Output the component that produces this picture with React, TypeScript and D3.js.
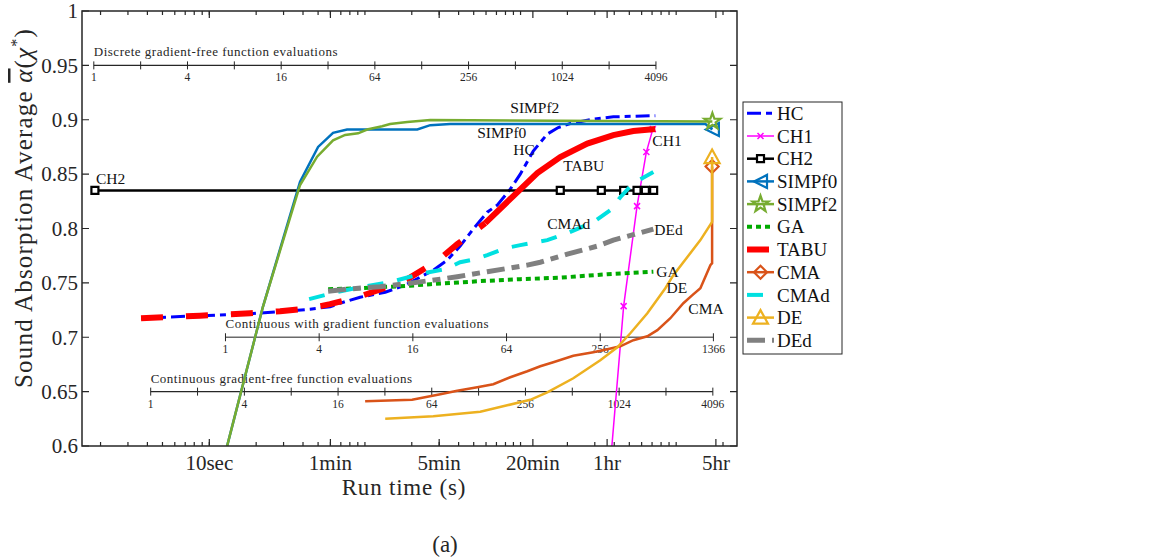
import * as d3 from 'd3'
import { useEffect, useRef } from 'react'

const width = 1155, height = 559
const box = { left: 82, right: 737, top: 11, bottom: 446 }
const font = "'Liberation Serif', 'Times New Roman', Times, serif"

// run time (s) against sound absorption average
const HC = [[3.64, 0.7175], [8.71, 0.7198], [18.3, 0.7216], [28.5, 0.7235], [44.4, 0.7258], [59.7, 0.7281], [74.6, 0.7327], [93.1, 0.7368], [135, 0.7414], [181, 0.7479], [226, 0.7552], [275, 0.7617], [338, 0.7709], [409, 0.7838], [496, 0.7994], [611, 0.815], [708, 0.8215], [859, 0.8362], [996, 0.85], [1207, 0.8712], [1485, 0.8868], [1747, 0.8928], [2087, 0.8965], [2935, 0.9006], [3947, 0.9027], [7348, 0.9037]]
const CH1 = [[3611, 0.55], [4597, 0.7286], [5605, 0.8206], [6433, 0.8703], [7080, 0.8914]]
const CH2 = [[1.84, 0.835], [1800, 0.835], [3304, 0.835], [4597, 0.835], [5605, 0.835], [6339, 0.835], [7166, 0.835]]
const SIMPf0 = [[11.4, 0.568], [22.1, 0.728], [38.3, 0.843], [50, 0.875], [62.4, 0.888], [76.8, 0.891], [217, 0.891], [263, 0.895], [353, 0.896], [15410, 0.896], [17090, 0.891]]
const SIMPf2 = [[11.4, 0.568], [22.1, 0.728], [38.3, 0.84], [49.3, 0.866], [62.4, 0.881], [74.6, 0.886], [90.4, 0.8875], [103.3, 0.891], [129, 0.894], [145, 0.896], [187, 0.898], [263, 0.8997], [17090, 0.8985]]
const GA = [[58, 0.7442], [93.1, 0.7451], [125, 0.746], [195, 0.7474], [263, 0.7488], [551, 0.7516], [996, 0.7534], [1800, 0.7548], [3611, 0.758], [7135, 0.7603]]
const TABU = [[3.64, 0.7175], [8.71, 0.7198], [18.3, 0.7221], [28.5, 0.7239], [44.4, 0.7267], [59.7, 0.7304], [74.6, 0.7341], [90.4, 0.737], [131, 0.7448], [190, 0.754], [296, 0.7709], [392, 0.7856], [593, 0.8049], [898, 0.8298], [1281, 0.8509], [1800, 0.8657], [2685, 0.8781], [3947, 0.8859], [5306, 0.8896], [7348, 0.8914]]
const CMA = [[100.3, 0.6411], [201, 0.6425], [305, 0.6476], [392, 0.6508], [527, 0.654], [668, 0.6568], [859, 0.6632], [1105, 0.6687], [1339, 0.6733], [1623, 0.677], [2183, 0.683], [2935, 0.6862], [3611, 0.689], [4378, 0.6917], [5306, 0.6973], [6528, 0.7009], [7570, 0.7065], [9177, 0.7175], [11120, 0.7313], [12710, 0.7387], [14310, 0.7451], [16590, 0.7663], [17020, 0.7681], [17020, 0.857]]
const CMAd = [[43.8, 0.735], [59.7, 0.7401], [93.1, 0.746], [145, 0.7506], [190, 0.7552], [237, 0.7589], [328, 0.7626], [409, 0.769], [511, 0.7718], [611, 0.7755], [797, 0.7819], [996, 0.7847], [1485, 0.7893], [1997, 0.7957], [2935, 0.8058], [3776, 0.8169], [4378, 0.8288], [5306, 0.8417], [7135, 0.8519]]
const DE = [[135, 0.625], [275, 0.6273], [551, 0.6315], [821, 0.6374], [1155, 0.6425], [1485, 0.6494], [2183, 0.6623], [3254, 0.6789], [4188, 0.6908], [5076, 0.7037], [6528, 0.7221], [8521, 0.7451], [9594, 0.7571], [14310, 0.7893], [17020, 0.8061], [17020, 0.8657]]
const DEd = [[58, 0.7424], [76.8, 0.7442], [100.3, 0.7456], [125, 0.7465], [195, 0.7497], [305, 0.7534], [392, 0.7557], [611, 0.7603], [1105, 0.7663], [1339, 0.769], [1997, 0.7764], [3113, 0.7838], [3947, 0.7893], [5306, 0.7943], [7135, 0.7994]]

const xTickVals = [10, 60, 300, 1200, 3600, 18000]
const xTickLabels = ['10sec', '1min', '5min', '20min', '1hr', '5hr']
const yTicks = [0.6, 0.65, 0.7, 0.75, 0.8, 0.85, 0.9, 0.95, 1]

// secondary evaluation-count axes drawn inside the plot
const discreteTicks = [1, 2, 4, 8, 16, 32, 64, 128, 256, 512, 1024, 2048, 4096]
const discreteLabels = [1, 4, 16, 64, 256, 1024, 4096]
const gradTicks = [1, 4, 16, 64, 256, 1366]
const freeTicks = [1, 2, 4, 8, 16, 32, 64, 128, 256, 512, 1024, 2048, 4096]
const freeLabels = [1, 4, 16, 64, 256, 1024, 4096]

const evalAxes = [
  { title: 'Discrete gradient-free function evaluations', at: 0.95, secPerEval: 1.81, ticks: discreteTicks, labels: discreteLabels, color: '#262626' },
  { title: 'Continuous with gradient function evaluations', at: 0.7, secPerEval: 12.7, ticks: gradTicks, labels: gradTicks, color: '#6a6a6a' },
  { title: 'Continuous gradient-free function evaluations', at: 0.65, secPerEval: 4.2, ticks: freeTicks, labels: freeLabels, color: '#262626' },
]

const series = [
  { name: 'HC', data: HC, color: '#0000ff', width: 3, dash: '14,5,6,5' },
  { name: 'CH1', data: CH1, color: '#ff00ff', width: 1.5, marker: 'x', every: true },
  { name: 'CH2', data: CH2, color: '#000000', width: 2.5, marker: 'square', every: true },
  { name: 'SIMPf0', data: SIMPf0, color: '#0072bd', width: 2.5, marker: 'left' },
  { name: 'SIMPf2', data: SIMPf2, color: '#77ac30', width: 2.5, marker: 'star' },
  { name: 'GA', data: GA, color: '#00aa00', width: 4, dash: '5,4' },
  { name: 'TABU', data: TABU, color: '#ff0000', width: 6, dash: '22,23', dashUntil: 593 },
  { name: 'CMA', data: CMA, color: '#d95319', width: 2.5, marker: 'diamond' },
  { name: 'CMAd', data: CMAd, color: '#00e0e0', width: 4, dash: '16,14' },
  { name: 'DE', data: DE, color: '#edb120', width: 2.5, marker: 'up' },
  { name: 'DEd', data: DEd, color: '#808080', width: 5, dash: '18,7,8,7' },
]

// curve labels: [text, time, value]
const notes = [
  ['CH2', 1.87, 0.8408], ['SIMPf2', 859, 0.906], ['SIMPf0', 527, 0.8832], ['HC', 898, 0.8675],
  ['TABU', 1882, 0.8528], ['CH1', 7031, 0.8758], ['CMAd', 1485, 0.7994], ['DEd', 7240, 0.794],
  ['GA', 7460, 0.7552], ['DE', 8660, 0.7405], ['CMA', 11980, 0.7212],
]

const markerPath = (type, s) => {
  if (type === 'x') return `M${-s},${-s}L${s},${s}M${-s},${s}L${s},${-s}`
  if (type === 'square') return `M${-s},${-s}H${s}V${s}H${-s}Z`
  if (type === 'left') return `M${-s},0L${s},${-s}L${s},${s}Z`
  if (type === 'up') return `M0,${-s}L${s},${s * 0.8}L${-s},${s * 0.8}Z`
  if (type === 'diamond') return `M0,${-s}L${s},0L0,${s}L${-s},0Z`
  const pts = d3.range(10).map(i => {
    const r = i % 2 ? s * 0.4 : s, a = -Math.PI / 2 + i * Math.PI / 5
    return [r * Math.cos(a), r * Math.sin(a)]
  })
  return 'M' + pts.map(p => p.join(',')).join('L') + 'Z'
}
const markerSize = { x: 3, square: 3.5, left: 6.5, up: 7.5, diamond: 6.5, star: 8.5 }

const chart = (node) => {
  const svg = d3.select(node)
  svg.selectAll('*').remove()

  const x = d3.scaleLog().domain([1.52, 24600]).range([box.left, box.right])
  const y = d3.scaleLinear().domain([0.6, 1]).range([box.bottom, box.top])
  const line = d3.line().x(d => x(d[0])).y(d => y(d[1]))

  svg.append('rect').attr('width', width).attr('height', height).attr('fill', '#fff')

  svg.append('defs').append('clipPath').attr('id', 'plotclip')
    .append('rect')
    .attr('x', box.left).attr('y', box.top)
    .attr('width', box.right - box.left).attr('height', box.bottom - box.top)

  // evaluation axes
  const ev = svg.append('g').attr('font-family', font).attr('fill', '#262626')
  evalAxes.forEach(a => {
    const yy = y(a.at)
    const xe = n => x(n * a.secPerEval)
    const ends = d3.extent(a.ticks)
    ev.append('line')
      .attr('x1', xe(ends[0])).attr('x2', xe(ends[1]))
      .attr('y1', yy).attr('y2', yy)
      .attr('stroke', a.color).attr('stroke-width', 1.3)
    ev.append('g').selectAll('line').data(a.ticks).join('line')
      .attr('x1', xe).attr('x2', xe)
      .attr('y1', yy - 4).attr('y2', yy + 4)
      .attr('stroke', '#262626').attr('stroke-width', 1)
    ev.append('g').selectAll('text').data(a.labels).join('text')
      .attr('x', xe).attr('y', yy + 16)
      .attr('text-anchor', 'middle').attr('font-size', 11.5)
      .text(d => d)
    ev.append('text')
      .attr('x', xe(ends[0])).attr('y', yy - 9)
      .attr('font-size', 13).attr('letter-spacing', 0.5)
      .text(a.title)
  })

  // curves
  const curves = svg.append('g').attr('clip-path', 'url(#plotclip)')
  series.forEach(s => {
    const style = (p, dash) => p
      .attr('fill', 'none').attr('stroke', s.color)
      .attr('stroke-width', s.width)
      .attr('stroke-dasharray', dash || null)
    if (s.dashUntil) {
      const k = s.data.findIndex(d => d[0] >= s.dashUntil)
      curves.append('path').attr('d', line(s.data.slice(0, k + 1))).call(style, s.dash)
      curves.append('path').attr('d', line(s.data.slice(k))).call(style, null)
    } else {
      curves.append('path').attr('d', line(s.data)).call(style, s.dash)
    }
    if (s.marker) {
      const pts = s.every ? s.data : [s.data[s.data.length - 1]]
      curves.append('g').selectAll('path').data(pts).join('path')
        .attr('transform', d => `translate(${x(d[0])},${y(d[1])})`)
        .attr('d', markerPath(s.marker, markerSize[s.marker]))
        .attr('fill', s.marker === 'square' ? '#fff' : 'none')
        .attr('stroke', s.color)
        .attr('stroke-width', s.marker === 'x' ? 1.5 : 2.2)
        .attr('stroke-linejoin', 'miter')
    }
  })

  svg.append('g').attr('font-family', font).attr('font-size', 15.5).attr('fill', '#111')
    .selectAll('text').data(notes).join('text')
    .attr('x', d => x(d[1])).attr('y', d => y(d[2]))
    .text(d => d[0])

  // axes box and ticks
  const ax = svg.append('g').attr('stroke', '#262626')
  ax.append('rect')
    .attr('x', box.left).attr('y', box.top)
    .attr('width', box.right - box.left).attr('height', box.bottom - box.top)
    .attr('fill', 'none').attr('stroke-width', 1.5)
  const minor = []
  for (let k = 0; k <= 4; k++) for (let m = 1; m <= 9; m++) {
    const v = m * 10 ** k
    if (v > x.domain()[0] && v < x.domain()[1]) minor.push(v)
  }
  const ticksX = [...minor.map(v => [v, 4]), ...xTickVals.map(v => [v, 7])]
  ax.append('g').selectAll('path').data(ticksX).join('path')
    .attr('d', d => `M${x(d[0])},${box.bottom}v${-d[1]}M${x(d[0])},${box.top}v${d[1]}`)
    .attr('stroke-width', 1.2)
  ax.append('g').selectAll('path').data(yTicks).join('path')
    .attr('d', d => `M${box.left},${y(d)}h7M${box.right},${y(d)}h-7`)
    .attr('stroke-width', 1.2)

  const lab = svg.append('g').attr('font-family', font).attr('fill', '#262626').attr('font-size', 21)
  lab.selectAll('.xt').data(xTickVals).join('text')
    .attr('x', d => x(d)).attr('y', 470)
    .attr('text-anchor', 'middle')
    .text((d, i) => xTickLabels[i])
  lab.selectAll('.yt').data(yTicks).join('text')
    .attr('x', box.left - 4).attr('y', d => y(d)).attr('dy', '0.35em')
    .attr('text-anchor', 'end')
    .text(d => d3.format('')(d))
  lab.append('text')
    .attr('x', 404).attr('y', 495)
    .attr('text-anchor', 'middle').attr('font-size', 23).attr('letter-spacing', 0.8)
    .text('Run time (s)')
  const yl = lab.append('text')
    .attr('transform', 'translate(32,208) rotate(-90)')
    .attr('text-anchor', 'middle').attr('font-size', 25).attr('letter-spacing', 1.2)
  yl.append('tspan').text('Sound Absorption Average ')
  yl.append('tspan').attr('font-style', 'italic').style('text-decoration', 'overline').text('α')
  yl.append('tspan').text('(')
  yl.append('tspan').attr('font-style', 'italic').text('χ')
  yl.append('tspan').attr('font-size', 16).attr('dy', -10).text('*')
  yl.append('tspan').attr('dy', 10).text(')')
  lab.append('text')
    .attr('x', 445).attr('y', 552)
    .attr('text-anchor', 'middle').attr('font-size', 23)
    .text('(a)')

  // legend
  const lg = svg.append('g').attr('font-family', font).attr('font-size', 19)
  lg.append('rect')
    .attr('x', 743).attr('y', 102).attr('width', 99).attr('height', 252)
    .attr('fill', '#fff').attr('stroke', '#262626').attr('stroke-width', 1)
  const row = lg.selectAll('g.row').data(series).join('g')
    .attr('transform', (d, i) => `translate(747,${113.3 + i * 22.7})`)
  row.append('line')
    .attr('x1', 0).attr('x2', 27)
    .attr('stroke', d => d.color).attr('stroke-width', d => d.width)
    .attr('stroke-dasharray', d => d.dash || null)
  row.filter(d => !!d.marker).append('path')
    .attr('transform', 'translate(13.5,0)')
    .attr('d', d => markerPath(d.marker, markerSize[d.marker]))
    .attr('fill', d => d.marker === 'square' ? '#fff' : 'none')
    .attr('stroke', d => d.color)
    .attr('stroke-width', d => d.marker === 'x' ? 1.5 : 2.2)
  row.append('text')
    .attr('x', 30).attr('dy', '0.35em').attr('fill', '#111')
    .text(d => d.name)
}

export default function App() {
  const ref = useRef(null)
  useEffect(() => {
    if (ref.current) chart(ref.current)
  }, [])
  return <svg ref={ref} width={width} height={height} style={{ position: 'absolute', left: 0, top: 0 }} />
}
